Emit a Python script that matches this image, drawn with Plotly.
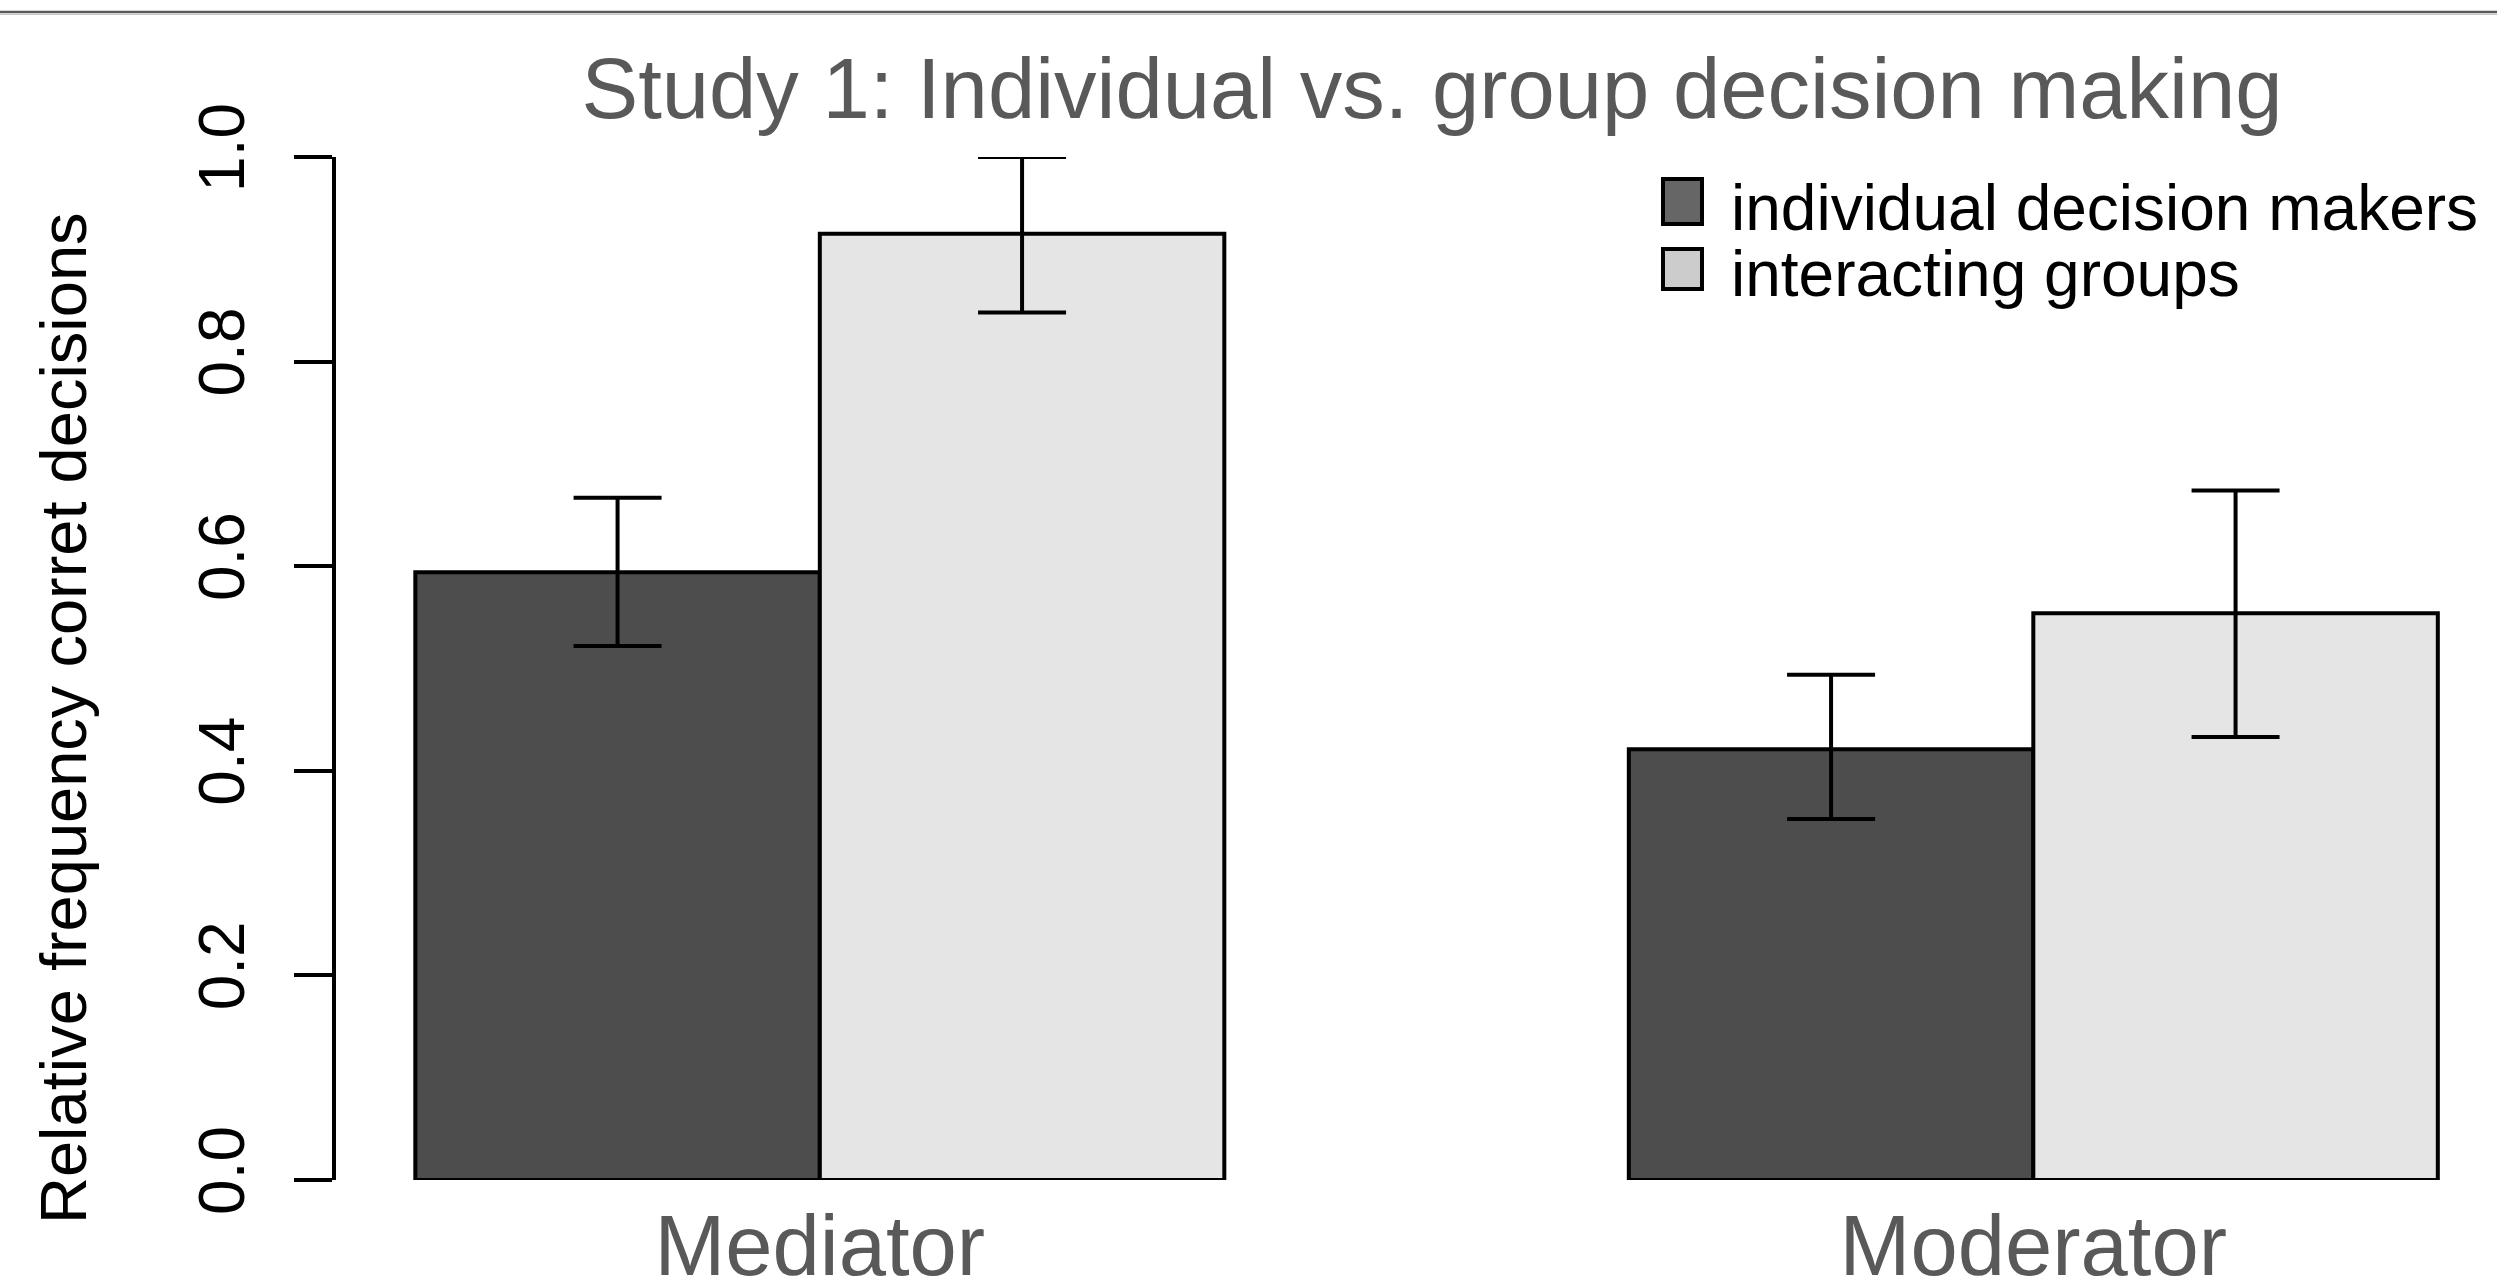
import plotly.graph_objects as go

# ---------------- data ----------------
categories = ["Mediator", "Moderator"]
series_names = ["individual decision makers", "interacting groups"]

individual_means = [0.594, 0.421]
individual_err_plus = [0.073, 0.073]
individual_err_minus = [0.072, 0.068]

group_means = [0.925, 0.554]
group_err_plus = [0.075, 0.120]
group_err_minus = [0.077, 0.121]

y_tick_values = [0.0, 0.2, 0.4, 0.6, 0.8, 1.0]
y_tick_labels = ["0.0", "0.2", "0.4", "0.6", "0.8", "1.0"]

title_text = "Study 1: Individual vs. group decision making"
y_title_text = "Relative frequency corret decisions"

# ---------------- styles ----------------
W, H = 2497, 1288
ML, MR, MT, MB = 336, 0, 157, 108
PW, PH = W - ML - MR, H - MT - MB
FONT = "Liberation Sans, Arial, sans-serif"
GRAY_TEXT = "#595959"
bar_colors = ["#4D4D4D", "#E5E5E5"]
legend_colors = ["#666666", "#CCCCCC"]


def px_x(p):
    return (p - ML) / PW


def px_y(p):
    return (H - MB - p) / PH


fig = go.Figure()
series = [
    (individual_means, individual_err_plus, individual_err_minus),
    (group_means, group_err_plus, group_err_minus),
]
for i, (vals, ep, em) in enumerate(series):
    fig.add_trace(go.Bar(
        x=categories, y=vals, name=series_names[i],
        marker=dict(color=bar_colors[i], line=dict(color="black", width=4)),
        error_y=dict(type="data", array=ep, arrayminus=em, symmetric=False,
                     color="black", thickness=4, width=44),
        cliponaxis=False, showlegend=False,
    ))

# manual legend (large swatches like the reference)
shapes = []
annotations = []
legend_rows = [(179, 224, 208), (249, 289, 274)]
for i, (top, bot, mid) in enumerate(legend_rows):
    shapes.append(dict(type="rect", xref="paper", yref="paper",
                       x0=px_x(1663), x1=px_x(1702), y0=px_y(bot), y1=px_y(top),
                       fillcolor=legend_colors[i], line=dict(color="black", width=4)))
    annotations.append(dict(xref="paper", yref="paper", x=px_x(1729), y=px_y(mid),
                            xanchor="left", yanchor="middle", showarrow=False,
                            text=series_names[i],
                            font=dict(family=FONT, size=64, color="black")))

# y axis title
annotations.append(dict(xref="paper", yref="paper", x=px_x(63), y=px_y(718),
                        xanchor="center", yanchor="middle", showarrow=False,
                        textangle=-90, text=y_title_text,
                        font=dict(family=FONT, size=65, color="black")))

# thin border line at the very top of the image
shapes.append(dict(type="line", xref="paper", yref="paper",
                   x0=px_x(0), x1=px_x(W), y0=px_y(12), y1=px_y(12),
                   line=dict(color="#5A5A5A", width=2.5)))
shapes.append(dict(type="line", xref="paper", yref="paper",
                   x0=px_x(0), x1=px_x(W), y0=px_y(14.5), y1=px_y(14.5),
                   line=dict(color="#C8C8C8", width=1)))

fig.update_layout(
    width=W, height=H,
    margin=dict(l=ML, r=MR, t=MT, b=MB, pad=0, autoexpand=False),
    paper_bgcolor="white", plot_bgcolor="white",
    barmode="group", bargap=1/3, bargroupgap=0,
    showlegend=False,
    title=dict(text=title_text, x=1432 / W, xanchor="center", xref="container",
               y=1 - 88 / H, yanchor="middle", yref="container",
               font=dict(family=FONT, size=85, color=GRAY_TEXT)),
    xaxis=dict(range=[-0.3987, -0.3987 + PW / 1213.5], showline=False, ticks="",
               showgrid=False, zeroline=False, ticklabelstandoff=9, automargin=False,
               tickfont=dict(family=FONT, size=85, color=GRAY_TEXT)),
    yaxis=dict(range=[0, 1], showline=True, linecolor="black", linewidth=4,
               ticks="outside", ticklen=38, tickwidth=4, tickcolor="black",
               tickvals=y_tick_values, ticktext=y_tick_labels, tickangle=-90,
               showgrid=False, zeroline=False, ticklabelstandoff=24, automargin=False,
               tickfont=dict(family=FONT, size=64, color="black")),
    shapes=shapes, annotations=annotations,
)

fig.write_html("out.html", config={"displayModeBar": False},
               post_script="document.body.style.margin='0';document.documentElement.style.overflow='hidden';")
